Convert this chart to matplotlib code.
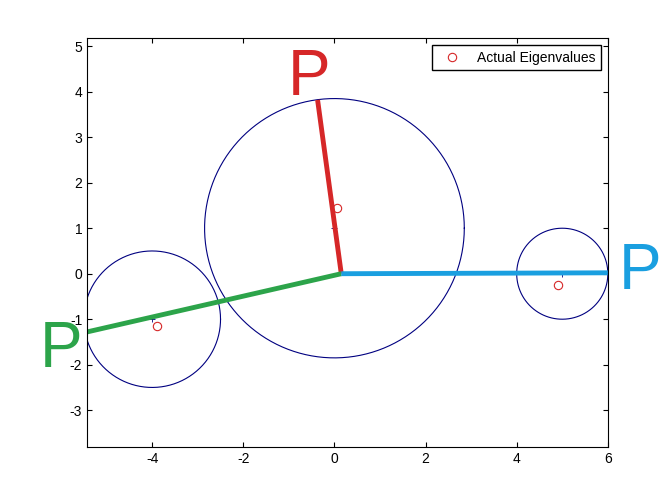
import matplotlib
matplotlib.use("Agg")
import matplotlib.pyplot as plt
import numpy as np

plt.rcParams['font.family'] = ['Liberation Sans', 'DejaVu Sans']
plt.rcParams['axes.unicode_minus'] = False

centers_x = [-4.0, 0.0, 5.0]
centers_y = [-1.0, 1.0, 0.0]
radii = [1.5, 2.85, 1.0]
eig_x = [-3.9, 0.05, 4.9]
eig_y = [-1.15, 1.45, -0.25]
origin = (0.15, 0.0)
ends_x = [-0.37, -5.43, 6.0]
ends_y = [3.82, -1.28, 0.02]
line_colors = ['#d62728', '#2ca44a', '#1a9fe0']
label_pos = [(-0.55, 4.3), (-6.0, -1.68), (6.7, 0.03)]

fig = plt.figure(figsize=(6.72, 5.04), dpi=100)
ax = fig.add_axes([0.1295, 0.113, 0.775, 0.8115])
t = np.linspace(0, 2*np.pi, 400)
for cx, cy, r in zip(centers_x, centers_y, radii):
    ax.plot(cx + r*np.cos(t), cy + r*np.sin(t), color='#000080', lw=0.8)
    ax.plot(cx, cy, '+', color='#000080', ms=5, mew=0.6)
ax.plot(eig_x, eig_y, 'o', mfc='none', mec='#d62728', ms=6, mew=0.8, label='Actual Eigenvalues')
for ex, ey, c, (lx, ly) in zip(ends_x, ends_y, line_colors, label_pos):
    ax.plot([origin[0], ex], [origin[1], ey], color=c, lw=3.5, solid_capstyle='butt')
    ax.text(lx, ly, 'P', color=c, fontsize=46, ha='center', va='center', clip_on=False)
ax.set_xlim(-5.43, 6.0)
ax.set_ylim(-3.81, 5.18)
ax.set_xticks([-4, -2, 0, 2, 4, 6])
ax.set_yticks(range(-3, 6))
ax.tick_params(direction='in', top=True, right=True, labelsize=10)
leg = ax.legend(loc='upper right', fontsize=10, fancybox=False, edgecolor='black', framealpha=1)
fig.savefig('out.png')
